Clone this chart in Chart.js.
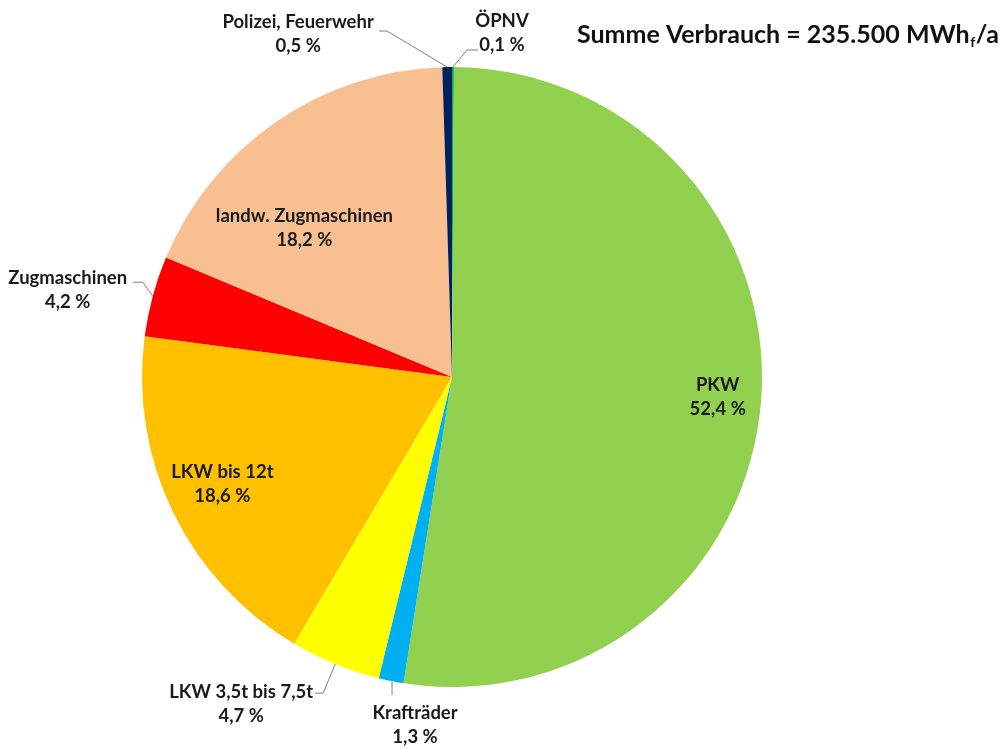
<!DOCTYPE html>
<html>
<head>
<meta charset="utf-8">
<script src="https://cdn.jsdelivr.net/npm/chart.js@4.4.1/dist/chart.umd.min.js"></script>
<style>
  html, body { margin: 0; padding: 0; background: #fff; }
  #wrap { width: 1007px; height: 749px; position: relative; }
</style>
</head>
<body>
<div id="wrap"><canvas id="pieCanvas" width="1007" height="749"></canvas></div>
<script>
// data
const categories = ['ÖPNV', 'PKW', 'Krafträder', 'LKW 3,5t bis 7,5t', 'LKW bis 12t', 'Zugmaschinen', 'landw. Zugmaschinen', 'Polizei, Feuerwehr'];
const shares = [0.1, 52.4, 1.3, 4.7, 18.6, 4.2, 18.2, 0.5];
const shareLabels = ['0,1 %', '52,4 %', '1,3 %', '4,7 %', '18,6 %', '4,2 %', '18,2 %', '0,5 %'];
const titleMain = 'Summe Verbrauch = 235.500 MWh';
const titleSub = 'f';
const titleTail = '/a';

const sliceColors = ['#00B050', '#92D050', '#00B0F0', '#FFFF00', '#FFC000', '#FF0000', '#F8BF90', '#002060'];

// label placement: r = radial fraction of anchor, dx/dy = text offset, line = leader points from edge
const labelStyle = [
    { r: 1, dx: 49, dy: -34, line: [[0, 0], [14, -17], [25, -17]] },
    { r: 0.86, dx: 0, dy: -2 },
    { r: 1, dx: 24, dy: 44, line: [[1, 1], [1, 14]] },
    { r: 1, dx: -94, dy: 40, line: [[0, 0], [-12, 29], [-20, 29]] },
    { r: 0.82, dx: -1, dy: -4 },
    { r: 1, dx: -85, dy: -6, line: [[0, 0], [-10, -14], [-20, -14]] },
    { r: 0.68, dx: -28, dy: 25 },
    { r: 1, dx: -149, dy: -33, line: [[0, 0], [-60, -36], [-68, -36]] }
];

const FONT = 'Lato, "Open Sans", sans-serif';

const labelPlugin = {
    id: 'pieLabels',
    afterDraw(chart) {
        const ctx = chart.ctx;
        const meta = chart.getDatasetMeta(0);
        ctx.save();
        meta.data.forEach((arc, i) => {
            const st = labelStyle[i];
            const mid = (arc.startAngle + arc.endAngle) / 2;
            const R = arc.outerRadius;
            const ex = arc.x + R * Math.cos(mid);
            const ey = arc.y + R * Math.sin(mid);
            if (st.line) {
                ctx.strokeStyle = '#7f7f7f';
                ctx.lineWidth = 1;
                ctx.beginPath();
                st.line.forEach((p, k) => {
                    if (k === 0) ctx.moveTo(ex + p[0], ey + p[1]);
                    else ctx.lineTo(ex + p[0], ey + p[1]);
                });
                ctx.stroke();
            }
            const ax = arc.x + st.r * R * Math.cos(mid) + st.dx;
            const ay = arc.y + st.r * R * Math.sin(mid) + st.dy;
            ctx.fillStyle = '#1a1a1a';
            ctx.font = 'bold 18.5px ' + FONT;
            ctx.textAlign = 'center';
            ctx.textBaseline = 'middle';
            ctx.fillText(categories[i], ax, ay - 12);
            ctx.fillText(shareLabels[i], ax, ay + 12);
        });

        // title top right
        const big = 'bold 25px ' + FONT;
        const small = 'bold 14px ' + FONT;
        ctx.font = big;
        const w1 = ctx.measureText(titleMain).width;
        const w3 = ctx.measureText(titleTail).width;
        ctx.font = small;
        const w2 = ctx.measureText(titleSub).width;
        const right = 999;
        let x = right - (w1 + w2 + w3 + 1);
        const y = 35;
        ctx.fillStyle = '#111';
        ctx.textAlign = 'left';
        ctx.textBaseline = 'middle';
        ctx.font = big;
        ctx.fillText(titleMain, x, y);
        x += w1;
        ctx.font = small;
        ctx.fillText(titleSub, x + 0.5, y + 7);
        x += w2 + 1;
        ctx.font = big;
        ctx.fillText(titleTail, x, y);
        ctx.restore();
    }
};

new Chart(document.getElementById('pieCanvas'), {
    type: 'pie',
    data: {
        labels: categories,
        datasets: [{
            data: shares,
            backgroundColor: sliceColors,
            borderWidth: 0,
            hoverOffset: 0
        }]
    },
    options: {
        responsive: false,
        animation: false,
        layout: { padding: { left: 142, right: 245, top: 67, bottom: 62 } },
        plugins: {
            legend: { display: false },
            tooltip: { enabled: false },
            title: { display: false }
        }
    },
    plugins: [labelPlugin]
});
</script>
</body>
</html>
